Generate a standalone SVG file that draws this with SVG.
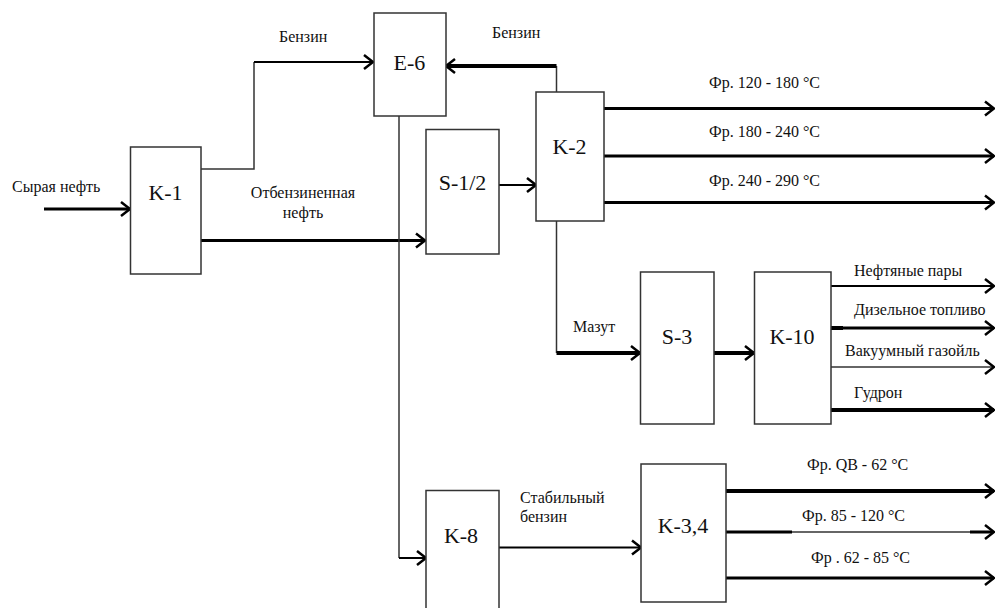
<svg xmlns="http://www.w3.org/2000/svg" width="995" height="608" viewBox="0 0 995 608">
<style>
.box{fill:#fff;stroke:#333;stroke-width:1.5}
.bl{font-family:"Liberation Serif","Times New Roman",serif;font-size:22px;fill:#111;text-anchor:middle}
.lb{font-family:"Liberation Serif","Times New Roman",serif;font-size:16px;fill:#111}
.c{fill:none;stroke:#000;stroke-linejoin:miter}
.t1{stroke-width:1.5;stroke:#333}
.t2{stroke-width:2}
.t3{stroke-width:3}
.t4{stroke-width:4}
</style>
<defs>
<marker id="ah" markerUnits="userSpaceOnUse" markerWidth="12" markerHeight="16" refX="10" refY="8" orient="auto" overflow="visible">
<path d="M1,1 L10,8 L1,15" fill="none" stroke="#000" stroke-width="2.5"/>
</marker>
</defs>
<rect width="995" height="608" fill="#fff"/>
<g id="connectors">
<path class="c t3" d="M44,209 H130" marker-end="url(#ah)"/>
<path class="c t1" d="M201,169 H254 V62"/>
<path class="c t2" d="M254,62 H373" marker-end="url(#ah)"/>
<path class="c t3" d="M201,240.5 H425" marker-end="url(#ah)"/>
<path class="c t1" d="M556.5,92 V66"/>
<path class="c t4" d="M556.5,66 H446" marker-end="url(#ah)"/>
<path class="c t1" d="M399,116 V558"/>
<path class="c t2" d="M399,558 H426" marker-end="url(#ah)"/>
<path class="c t2" d="M499,185 H536" marker-end="url(#ah)"/>
<path class="c t3" d="M604,108.5 H994" marker-end="url(#ah)"/>
<path class="c t3" d="M604,156 H994" marker-end="url(#ah)"/>
<path class="c t3" d="M604,202.5 H994" marker-end="url(#ah)"/>
<path class="c t1" d="M556.5,221 V353"/>
<path class="c t4" d="M556.5,353 H640" marker-end="url(#ah)"/>
<path class="c t4" d="M714,353 H754" marker-end="url(#ah)"/>
<path class="c t2" d="M831,286 H994" marker-end="url(#ah)"/>
<path class="c t3" d="M831,328 H994" marker-end="url(#ah)"/>
<path class="c t4" d="M831,328 H843"/>
<path class="c t1" d="M831,367 H994" marker-end="url(#ah)"/>
<path class="c t4" d="M831,410 H994" marker-end="url(#ah)"/>
<path class="c t2" d="M499,547.5 H641" marker-end="url(#ah)"/>
<path class="c t4" d="M726,491 H994" marker-end="url(#ah)"/>
<path class="c t1" d="M726,532 H994" marker-end="url(#ah)"/>
<path class="c t3" d="M726,532 H792 M970,532 H992"/>
<path class="c t3" d="M726,578 H994" marker-end="url(#ah)"/>
</g>
<g id="K-1"><rect class="box" x="130.5" y="147" width="70.5" height="127"/><text class="bl" x="165.5" y="200">K-1</text></g>
<g id="E-6"><rect class="box" x="374" y="13" width="72" height="103"/><text class="bl" x="409.5" y="70">E-6</text></g>
<g id="S-1-2"><rect class="box" x="426" y="129.5" width="73" height="124.5"/><text class="bl" x="462.5" y="190">S-1/2</text></g>
<g id="K-2"><rect class="box" x="536" y="92" width="68" height="129"/><text class="bl" x="569.5" y="154">K-2</text></g>
<g id="S-3"><rect class="box" x="640.5" y="272" width="73.5" height="152"/><text class="bl" x="677" y="344">S-3</text></g>
<g id="K-10"><rect class="box" x="754.5" y="272" width="76.5" height="152"/><text class="bl" x="792" y="344">K-10</text></g>
<g id="K-8"><rect class="box" x="426" y="490.5" width="73" height="130"/><text class="bl" x="461" y="543">K-8</text></g>
<g id="K-3-4"><rect class="box" x="641" y="464" width="85" height="138"/><text class="bl" x="683" y="533">K-3,4</text></g>
<g id="labels">
<text class="lb" x="12" y="192">Сырая нефть</text>
<text class="lb" x="279" y="42">Бензин</text>
<text class="lb" x="492" y="38">Бензин</text>
<text class="lb" x="303" y="198" text-anchor="middle">Отбензиненная</text>
<text class="lb" x="303" y="218" text-anchor="middle">нефть</text>
<text class="lb" x="709" y="88">Фр. 120 - 180 °С</text>
<text class="lb" x="709" y="137">Фр. 180 - 240 °С</text>
<text class="lb" x="709" y="186">Фр. 240 - 290 °С</text>
<text class="lb" x="573" y="332">Мазут</text>
<text class="lb" x="854" y="276">Нефтяные пары</text>
<text class="lb" x="854" y="315">Дизельное топливо</text>
<text class="lb" x="845" y="356">Вакуумный газойль</text>
<text class="lb" x="854" y="398">Гудрон</text>
<text class="lb" x="520" y="503">Стабильный</text>
<text class="lb" x="520" y="522">бензин</text>
<text class="lb" x="807" y="470">Фр. QB - 62 °С</text>
<text class="lb" x="802" y="521">Фр. 85 - 120 °С</text>
<text class="lb" x="811" y="563">Фр . 62 - 85 °С</text>
</g>
</svg>
